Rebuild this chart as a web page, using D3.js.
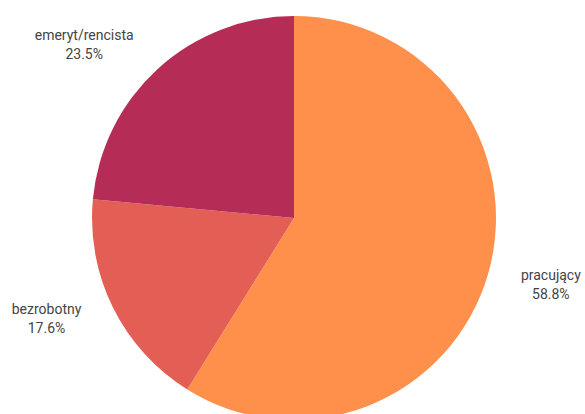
<!DOCTYPE html>
<html><head><meta charset="utf-8">
<script src="https://cdn.jsdelivr.net/npm/d3@7"></script>
<style>
html,body{margin:0;padding:0;background:#fff;}
text{font-family:"Roboto","Liberation Sans Narrow",sans-serif;}
</style></head>
<body><svg id="c" width="585" height="414"></svg>
<script>
const categories = ["pracujący", "bezrobotny", "emeryt/rencista"];
const values = [58.8, 17.6, 23.5];
const colors = ["#FE904C", "#E35F55", "#B52D57"];
const labelText = ["58.8%", "17.6%", "23.5%"];

const svg = d3.select("#c");
const cx = 294, cy = 218, R = 202;
const g = svg.append("g").attr("transform", `translate(${cx},${cy})`);
const pie = d3.pie().sort(null).value(d => d)(values);
const arc = d3.arc().innerRadius(0).outerRadius(R);
g.selectAll("path").data(pie).join("path")
  .attr("d", arc).attr("fill", (d,i) => colors[i]);

// label positions: radial placement with per-side nudges
const nudges = [[3,-2],[-11,-12],[-32,26]];
pie.forEach((d,i) => {
  const a = (d.startAngle + d.endAngle)/2;
  const rl = 264;
  const x = rl*Math.sin(a) + nudges[i][0];
  const y = -rl*Math.cos(a) + nudges[i][1];
  const t = g.append("text").attr("text-anchor","middle")
    .attr("fill","#444").attr("font-size",14).attr("transform",`translate(${x},${y})`);
  t.append("tspan").attr("x",0).attr("y",-9).text(categories[i]);
  t.append("tspan").attr("x",0).attr("y",10).text(labelText[i]);
});
</script></body></html>
